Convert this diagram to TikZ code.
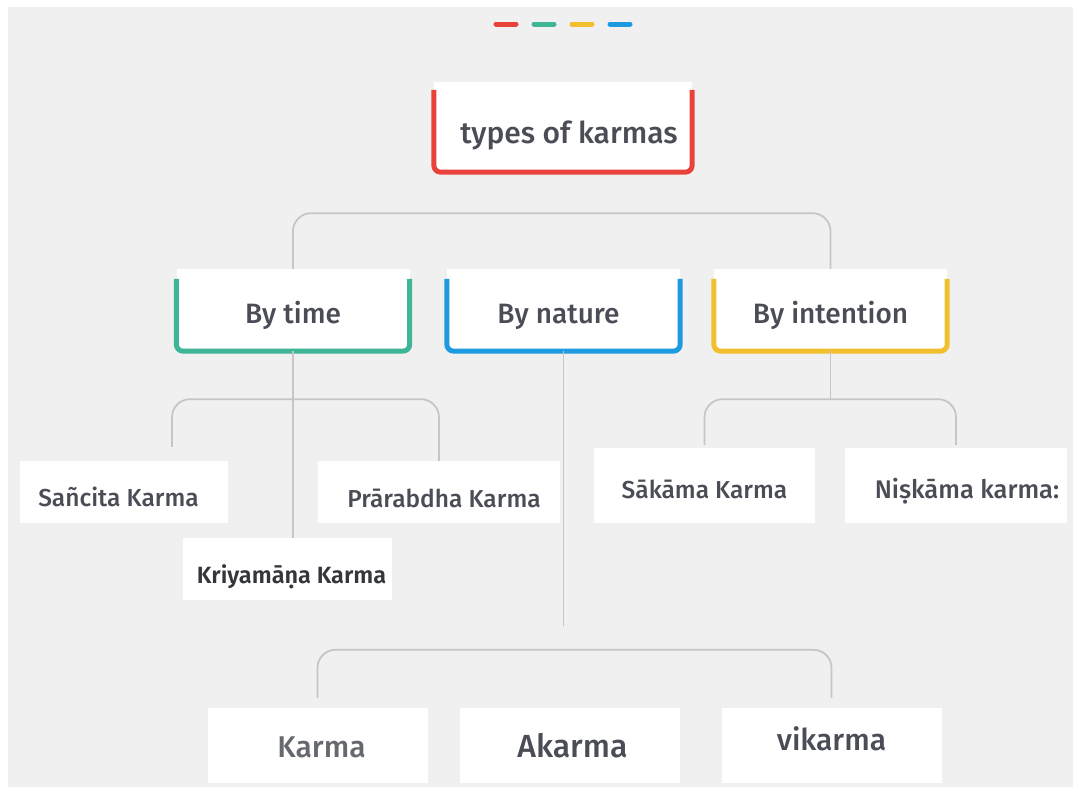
\documentclass[tikz,border=0pt]{standalone}
\usepackage{fontspec}
\setmainfont{Fira Sans}[UprightFont=* Medium,BoldFont=* SemiBold]
\definecolor{kred}{HTML}{E8423B}
\definecolor{kgreen}{HTML}{3DB596}
\definecolor{kyellow}{HTML}{F2C02E}
\definecolor{kblue}{HTML}{1E9AE0}
\definecolor{bggray}{HTML}{F0F0F0}
\definecolor{linkgray}{HTML}{C6C6C6}
\definecolor{inkgray}{HTML}{4A4D55}
\begin{document}
\begin{tikzpicture}[x=1pt,y=-1pt,
  link/.style={draw=linkgray,line width=1.8pt,rounded corners=18pt},
  rim/.style={line width=5pt,rounded corners=7pt},
  head/.style={fill=white,inner sep=0pt,minimum width=258pt,minimum height=90pt,
    text height=40pt,text depth=8pt,text=inkgray,font=\fontsize{30}{34}\selectfont},
  cat/.style={fill=white,inner sep=0pt,minimum width=233pt,minimum height=82pt,
    text height=32pt,text depth=6pt,text=inkgray,font=\fontsize{28}{32}\selectfont},
  leaf/.style={fill=white,inner sep=0pt,minimum height=62pt,
    text height=34pt,text depth=6pt,text=inkgray,font=\fontsize{24.5}{28}\selectfont},
  wish/.style={leaf,minimum height=75pt,text height=31pt},
  low/.style={leaf,minimum width=220pt,minimum height=75pt,text height=29pt,
    font=\fontsize{30}{34}\selectfont}]
  \useasboundingbox (0,0) rectangle (1073,787);
  \fill[white] (0,0) rectangle (1073,787);
  \fill[bggray] (8,7) rectangle (1073,787);
  % colour marks
  \foreach \c [count=\i from 0] in {kred,kgreen,kyellow,kblue}
    \draw[\c,line width=5pt,line cap=round] (496+38*\i,24) -- ++(20,0);
  % root
  \node[head] (types) at (563,127) {\hspace*{12pt}types of karmas};
  \draw[rim,kred] ([yshift=-8pt]types.north west) -- (types.south west)
    -- (types.south east) -- ([yshift=-8pt]types.north east);
  % categories
  \node[cat] (time) at (293,310) {By time};
  \node[cat] (nature) at (563.5,310) {By nature\hspace*{10pt}};
  \node[cat] (intent) at (830.5,310) {By intention};
  \draw[rim,kgreen] ([yshift=-10pt]time.north west) -- (time.south west)
    -- (time.south east) -- ([yshift=-10pt]time.north east);
  \draw[rim,kblue] ([yshift=-10pt]nature.north west) -- (nature.south west)
    -- (nature.south east) -- ([yshift=-10pt]nature.north east);
  \draw[rim,kyellow] ([yshift=-10pt]intent.north west) -- (intent.south west)
    -- (intent.south east) -- ([yshift=-10pt]intent.north east);
  % leaves
  \node[leaf,minimum width=208pt] (sancita) at (124,492) {Sañcita Karma\hspace*{11pt}};
  \node[leaf,minimum width=242pt,text height=36pt] (prarabdha) at (439,492) {\hspace*{10pt}Prārabdha Karma};
  \node[leaf,minimum width=209pt,text=inkgray!70!black,font=\fontsize{23.5}{27}\selectfont\bfseries] (kriyamana) at (287.5,569) {\hspace*{8pt}Kriyamāṇa Karma};
  \node[wish,minimum width=221pt] (sakama) at (704.5,485.5) {Sākāma Karma};
  \node[wish,minimum width=222pt,font=\fontsize{25.5}{29}\selectfont] (niskama) at (956,485.5) {\hspace*{22pt}Niṣkāma karma:};
  \node[low,text=inkgray!85] (karma) at (317.5,745.5) {\hspace*{8pt}Karma};
  \node[low,font=\fontsize{32}{36}\selectfont] (akarma) at (569.5,745.5) {\hspace*{6pt}Akarma};
  \node[low,text height=15pt] (vikarma) at (831.5,745.5) {vikarma};
  % connectors
  \draw[link] (time.north) |- ([yshift=-41pt]types.south) -| (intent.north);
  \draw[link] (time.south) -- (time.south |- kriyamana.north);
  \draw[link] ([xshift=48pt,yshift=14pt]sancita.north) |- ([yshift=-48pt]time.south)
    -| (prarabdha.north);
  \draw[link] (intent.south) -- ([yshift=-48pt]intent.south);
  \draw[link] ([yshift=3pt]sakama.north) |- ([yshift=-48pt]intent.south)
    -| ([yshift=3pt]niskama.north);
  \draw[link] (nature.south) -- ++(0,275);
  \draw[link] ([yshift=10pt]karma.north) |- ([yshift=58pt]akarma.north)
    -| ([yshift=10pt]vikarma.north);
\end{tikzpicture}
\end{document}
